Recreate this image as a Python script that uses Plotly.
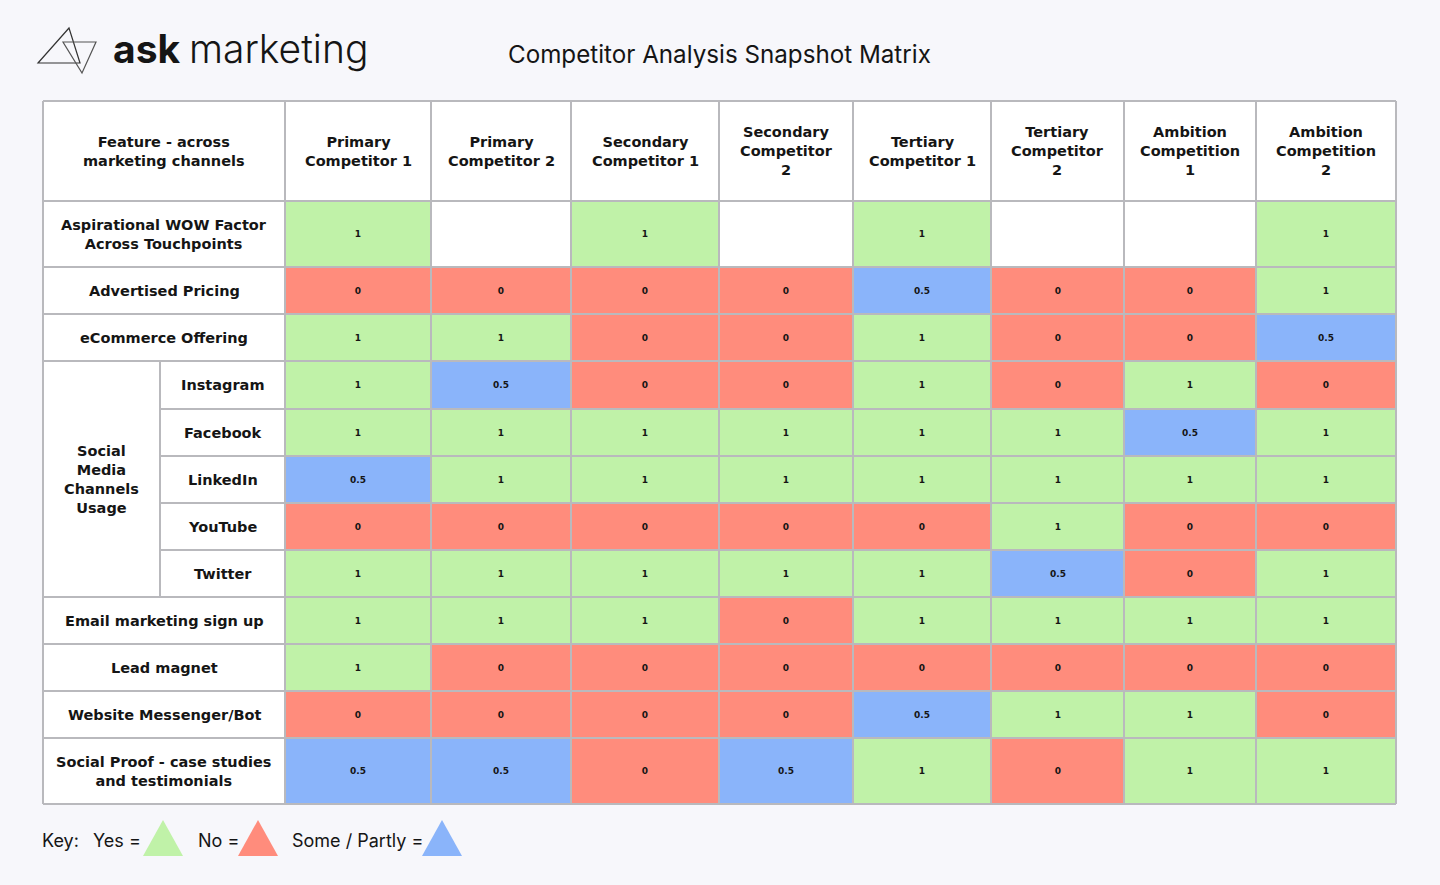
import numpy as np
import plotly.graph_objects as go

# ------------------------------
# Data
# ------------------------------

competitors = [
    "Primary<br>Competitor 1",
    "Primary<br>Competitor 2",
    "Secondary<br>Competitor 1",
    "Secondary<br>Competitor<br>2",
    "Tertiary<br>Competitor 1",
    "Tertiary<br>Competitor<br>2",
    "Ambition<br>Competition<br>1",
    "Ambition<br>Competition<br>2",
]

features = [
    "Aspirational WOW Factor<br>Across Touchpoints",
    "Advertised Pricing",
    "eCommerce Offering",
    "Instagram",
    "Facebook",
    "LinkedIn",
    "YouTube",
    "Twitter",
    "Email marketing sign up",
    "Lead magnet",
    "Website Messenger/Bot",
    "Social Proof - case studies<br>and testimonials",
]

# rows that sit inside the "Social Media Channels Usage" group
social_rows = ["Instagram", "Facebook", "LinkedIn", "YouTube", "Twitter"]
social_group = "Social<br>Media<br>Channels<br>Usage"
corner_label = "Feature - across<br>marketing channels"

# 1 = yes, 0 = no, 0.5 = some / partly, None = blank
scores = [
    [1, None, 1, None, 1, None, None, 1],
    [0, 0, 0, 0, 0.5, 0, 0, 1],
    [1, 1, 0, 0, 1, 0, 0, 0.5],
    [1, 0.5, 0, 0, 1, 0, 1, 0],
    [1, 1, 1, 1, 1, 1, 0.5, 1],
    [0.5, 1, 1, 1, 1, 1, 1, 1],
    [0, 0, 0, 0, 0, 1, 0, 0],
    [1, 1, 1, 1, 1, 0.5, 0, 1],
    [1, 1, 1, 0, 1, 1, 1, 1],
    [1, 0, 0, 0, 0, 0, 0, 0],
    [0, 0, 0, 0, 0.5, 1, 1, 0],
    [0.5, 0.5, 0, 0.5, 1, 0, 1, 1],
]

key_labels = ["Yes =", "No =", "Some / Partly ="]

# ------------------------------
# Layout (pixels)
# ------------------------------

W, H = 1440, 885
table_left, table_top = 43, 101
label_width = 242
group_width = 117
col_widths = [146, 140, 148, 134, 138, 133, 132, 140]
header_height = 100
row_heights = [66, 47, 47, 48, 47, 47, 47, 47, 47, 47, 47, 66]

green = "#c0f2a8"
red = "#ff8c7c"
blue = "#8ab4fa"
grid_color = "#b9b9bd"
bg_color = "#f7f7fb"
text_color = "#151515"
font_main = "Inter"
font_table = "DejaVu Sans"

x_edges = table_left + label_width + np.concatenate([[0], np.cumsum(col_widths)])
y_edges = table_top + header_height + np.concatenate([[0], np.cumsum(row_heights)])
x_mid = (x_edges[:-1] + x_edges[1:]) / 2
y_mid = (y_edges[:-1] + y_edges[1:]) / 2
table_right = x_edges[-1]
table_bottom = y_edges[-1]
group_x = table_left + group_width

z = np.array([[np.nan if v is None else v for v in row] for row in scores])
cell_text = [["" if v is None else f"{v:g}" for v in row] for row in scores]

fig = go.Figure()

fig.add_trace(
    go.Heatmap(
        x=x_edges,
        y=y_edges,
        z=z,
        text=cell_text,
        texttemplate="%{text}",
        textfont=dict(size=9, color=text_color, family=font_table, weight="bold"),
        colorscale=[
            [0, red], [0.25, red], [0.25, blue],
            [0.75, blue], [0.75, green], [1, green],
        ],
        zmin=0,
        zmax=1,
        showscale=False,
        hoverinfo="skip",
    )
)

# white table base below the cells
shapes = [
    dict(type="rect", x0=table_left, x1=table_right, y0=table_top, y1=table_bottom,
         fillcolor="white", line_width=0, layer="below")
]

line = dict(color=grid_color, width=2)
soc_idx = [features.index(r) for r in social_rows]
soc_top = y_edges[soc_idx[0]]
soc_bottom = y_edges[soc_idx[-1] + 1]

# vertical lines
for xv in [table_left, *x_edges]:
    shapes.append(dict(type="line", x0=xv, x1=xv, y0=table_top, y1=table_bottom, line=line))
shapes.append(dict(type="line", x0=group_x, x1=group_x, y0=soc_top, y1=soc_bottom, line=line))

# horizontal lines
for yv in [table_top, *y_edges]:
    x0 = table_left
    if soc_top < yv < soc_bottom:
        x0 = group_x
    shapes.append(dict(type="line", x0=x0, x1=table_right, y0=yv, y1=yv, line=line))

# logo triangles
shapes.append(dict(type="path", path="M 69 28 L 38 63 L 80 63 Z",
                   line=dict(color="#333333", width=1.2)))
shapes.append(dict(type="path", path="M 63 42 L 96 42 L 82 73 Z",
                   line=dict(color="#555555", width=1.2)))

# key triangles
key_x = [163, 258, 442]
key_cols = [green, red, blue]
for cx, col in zip(key_x, key_cols):
    shapes.append(dict(type="path",
                       path=f"M {cx - 20} 856 L {cx} 820 L {cx + 20} 856 Z",
                       fillcolor=col, line_width=0))

annotations = []


def label(x, y, text, size=14.5, weight="bold", anchor="center", family=font_table):
    annotations.append(dict(
        x=x, y=y, text=text, showarrow=False, xanchor=anchor, yanchor="middle",
        align="center", font=dict(size=size, color=text_color, family=family, weight=weight),
    ))


header_mid = table_top + header_height / 2
label((table_left + x_edges[0]) / 2, header_mid, corner_label)
for xm, c in zip(x_mid, competitors):
    label(xm, header_mid, c)

for ym, f in zip(y_mid, features):
    if f in social_rows:
        label((group_x + x_edges[0]) / 2, ym, f)
    else:
        label((table_left + x_edges[0]) / 2, ym, f)
label((table_left + group_x) / 2, (soc_top + soc_bottom) / 2, social_group)

# header: logo text and title
label(111, 48, "ask", size=39, weight=700, anchor="left", family=font_main)
label(187, 48, "marketing", size=39, weight=300, anchor="left", family=font_main)
label(719, 54, "Competitor Analysis Snapshot Matrix", size=24.2, weight=400, family=font_main)

# key
label(40, 840, "Key:", size=18, weight=400, anchor="left", family=font_main)
for lx, t in zip([91, 196, 290], key_labels):
    label(lx, 840, t, size=18, weight=400, anchor="left", family=font_main)

fig.update_layout(
    width=W,
    height=H,
    margin=dict(l=0, r=0, t=0, b=0),
    paper_bgcolor=bg_color,
    plot_bgcolor=bg_color,
    shapes=shapes,
    annotations=annotations,
    showlegend=False,
    xaxis=dict(range=[0, W], visible=False, fixedrange=True),
    yaxis=dict(range=[H, 0], visible=False, fixedrange=True),
)

fig.write_html(
    "out.html",
    config={"displayModeBar": False},
    post_script="document.body.style.margin='0';document.body.style.overflow='hidden';",
)
